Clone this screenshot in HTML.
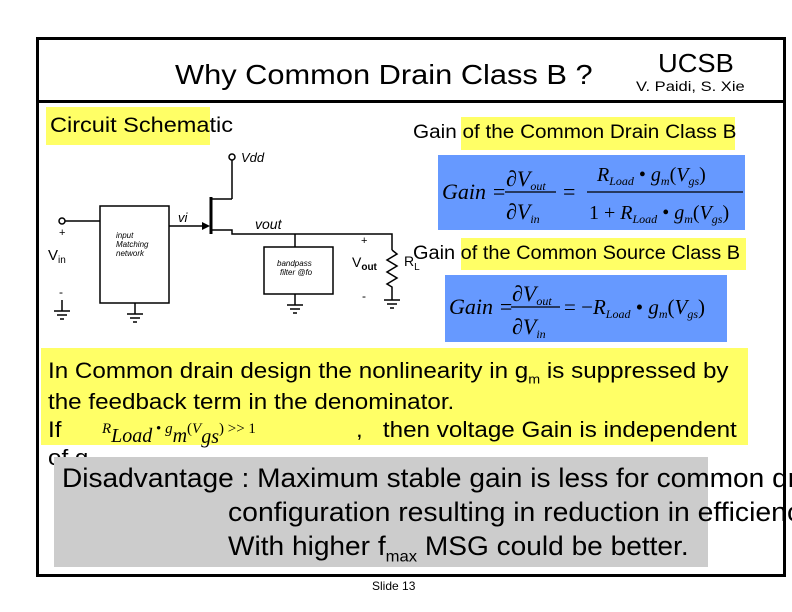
<!DOCTYPE html>
<html><head><meta charset="utf-8">
<style>
html,body{margin:0;padding:0;background:#fff;}
body{width:792px;height:612px;position:relative;overflow:hidden;font-family:"Liberation Sans",sans-serif;color:#000;}
.a{position:absolute;white-space:nowrap;}
.s{transform-origin:0 50%;}
.y{background:#ffff66;}
</style></head><body>
<div class="a" style="left:36px;top:37px;width:744px;height:534px;border:3px solid #000;"></div>
<div class="a" style="left:36px;top:100px;width:750px;height:3px;background:#000;"></div>

<div class="a s" style="left:175px;top:59px;font-size:28px;transform:scaleX(1.1);">Why Common Drain Class B ?</div>
<div class="a s" style="left:658px;top:48px;font-size:26px;transform:scaleX(1.05);">UCSB</div>
<div class="a s" style="left:636px;top:78px;font-size:14px;transform:scaleX(1.18);">V. Paidi, S. Xie</div>

<div class="a y" style="left:46px;top:107px;width:164px;height:38px;"></div>
<div class="a s" style="left:50px;top:114px;font-size:21px;transform:scaleX(1.12);">Circuit Schematic</div>

<div class="a y" style="left:461px;top:117px;width:274px;height:33px;"></div>
<div class="a s" style="left:413px;top:122px;font-size:19px;transform:scaleX(1.09);">Gain of the Common Drain Class B</div>
<div class="a" style="left:438px;top:155px;width:307px;height:75px;background:#6699ff;"></div>

<div class="a y" style="left:461px;top:238px;width:285px;height:32px;"></div>
<div class="a s" style="left:413px;top:243px;font-size:19px;transform:scaleX(1.05);">Gain of the Common Source Class B</div>
<div class="a" style="left:445px;top:275px;width:282px;height:67px;background:#6699ff;"></div>

<div class="a y" style="left:41px;top:348px;width:707px;height:97px;"></div>
<div class="a s" style="left:48px;top:356px;font-size:22px;line-height:30px;transform:scaleX(1.1);">In Common drain design the nonlinearity in g<sub style="font-size:13px">m</sub> is suppressed by</div>
<div class="a s" style="left:48px;top:389px;font-size:22px;transform:scaleX(1.1);">the feedback term in the denominator.</div>
<div class="a s" style="left:48px;top:417px;font-size:22px;transform:scaleX(1.1);">If</div>
<div class="a s" style="left:356px;top:417px;font-size:22px;transform:scaleX(1.1);">,&nbsp;&nbsp; then voltage Gain is independent</div>
<div class="a s" style="left:48px;top:445px;font-size:22px;transform:scaleX(1.1);">of g</div>

<div class="a" style="left:54px;top:457px;width:654px;height:110px;background:#cccccc;"></div>
<div class="a s" style="left:62px;top:463px;font-size:27px;transform:scaleX(1.04);">Disadvantage : Maximum stable gain is less for common drain</div>
<div class="a s" style="left:228px;top:497px;font-size:27px;transform:scaleX(1.05);">configuration resulting in reduction in efficiency</div>
<div class="a s" style="left:228px;top:531px;font-size:27px;transform:scaleX(1.04);">With higher f<sub style="font-size:16px">max</sub> MSG could be better.</div>

<div class="a" style="left:372px;top:579px;font-size:12px;">Slide 13</div>

<svg class="a" style="left:0;top:0" width="792" height="612" viewBox="0 0 792 612">
<g stroke="#000" stroke-width="1.5" fill="none">
 <circle cx="62" cy="221" r="3" fill="#fff"/>
 <line x1="65" y1="221" x2="100" y2="221"/>
 <rect x="100" y="206" width="69" height="97"/>
 <line x1="135" y1="303" x2="135" y2="314"/>
 <line x1="127" y1="314" x2="143" y2="314"/><line x1="130" y1="318" x2="140" y2="318"/><line x1="133" y1="322" x2="137" y2="322"/>
 <line x1="62" y1="300" x2="62" y2="311"/>
 <line x1="54" y1="311" x2="70" y2="311"/><line x1="57" y1="315" x2="67" y2="315"/><line x1="60" y1="319" x2="64" y2="319"/>
 <line x1="169" y1="226" x2="205" y2="226"/>
 <line x1="211" y1="197" x2="211" y2="234" stroke-width="3"/>
 <line x1="212" y1="199" x2="232" y2="199"/>
 <line x1="232" y1="199" x2="232" y2="160"/>
 <circle cx="232" cy="157" r="3" fill="#fff"/>
 <polyline points="212,230 232,230 232,234 392,234 392,250"/>
 <line x1="295" y1="234" x2="295" y2="247"/>
 <rect x="264" y="247" width="69" height="47"/>
 <line x1="295" y1="294" x2="295" y2="305"/>
 <line x1="287" y1="305" x2="303" y2="305"/><line x1="290" y1="309" x2="300" y2="309"/><line x1="293" y1="313" x2="297" y2="313"/>
 <polyline points="392,250 397,254 387,260 397,266 387,272 397,278 387,284 392,287 392,300"/>
 <line x1="384" y1="300" x2="400" y2="300"/><line x1="387" y1="304" x2="397" y2="304"/><line x1="390" y1="308" x2="394" y2="308"/>
</g>
<polygon points="210,226 202,222 202,230" fill="#000"/>
<g font-family="Liberation Sans, sans-serif" fill="#000">
 <text x="59" y="236" font-size="11">+</text>
 <text x="48" y="260" font-size="15">V<tspan font-size="10" dy="3">in</tspan></text>
 <text x="59" y="296" font-size="12">-</text>
 <text x="116" y="238" font-size="8" font-style="italic">input</text>
 <text x="116" y="247" font-size="8" font-style="italic">Matching</text>
 <text x="116" y="256" font-size="8" font-style="italic">network</text>
 <text x="178" y="222" font-size="13" font-style="italic">vi</text>
 <text x="241" y="162" font-size="13" font-style="italic">Vdd</text>
 <text x="255" y="229" font-size="14" font-style="italic">vout</text>
 <text x="277" y="266" font-size="8" font-style="italic">bandpass</text>
 <text x="280" y="275" font-size="8" font-style="italic">filter @fo</text>
 <text x="361" y="244" font-size="11">+</text>
 <text x="352" y="267" font-size="14">V<tspan font-size="10" dy="3" font-weight="bold">out</tspan></text>
 <text x="362" y="300" font-size="12">-</text>
 <text x="404" y="266" font-size="14">R<tspan font-size="10" dy="4">L</tspan></text>
</g>
<g font-family="Liberation Serif, serif" font-style="italic" fill="#000">
 <text x="442" y="199" font-size="22">Gain =</text>
 <text x="506" y="186" font-size="22">∂V<tspan font-size="12" dy="4">out</tspan></text>
 <line x1="505" y1="192" x2="556" y2="192" stroke="#000" stroke-width="1.2"/>
 <text x="506" y="219" font-size="22">∂V<tspan font-size="12" dy="4">in</tspan></text>
 <text x="563" y="199" font-size="22" font-style="normal">=</text>
 <text x="597" y="181" font-size="20">R<tspan font-size="12" dy="4">Load</tspan><tspan dy="-4" font-style="normal"> • </tspan>g<tspan font-size="12" dy="4">m</tspan><tspan dy="-4" font-style="normal">(</tspan>V<tspan font-size="12" dy="4">gs</tspan><tspan dy="-4" font-style="normal">)</tspan></text>
 <line x1="587" y1="192" x2="743" y2="192" stroke="#000" stroke-width="1.2"/>
 <text x="589" y="219" font-size="20"><tspan font-style="normal">1 + </tspan>R<tspan font-size="12" dy="4">Load</tspan><tspan dy="-4" font-style="normal"> • </tspan>g<tspan font-size="12" dy="4">m</tspan><tspan dy="-4" font-style="normal">(</tspan>V<tspan font-size="12" dy="4">gs</tspan><tspan dy="-4" font-style="normal">)</tspan></text>

 <text x="449" y="314" font-size="22">Gain =</text>
 <text x="512" y="301" font-size="22">∂V<tspan font-size="12" dy="4">out</tspan></text>
 <line x1="511" y1="307" x2="560" y2="307" stroke="#000" stroke-width="1.2"/>
 <text x="512" y="334" font-size="22">∂V<tspan font-size="12" dy="4">in</tspan></text>
 <text x="564" y="314" font-size="21"><tspan font-style="normal">= −</tspan>R<tspan font-size="12" dy="4">Load</tspan><tspan dy="-4" font-style="normal"> • </tspan>g<tspan font-size="12" dy="4">m</tspan><tspan dy="-4" font-style="normal">(</tspan>V<tspan font-size="12" dy="4">gs</tspan><tspan dy="-4" font-style="normal">)</tspan></text>

 <text x="102" y="433" font-size="15">R<tspan font-size="20" dy="9">Load</tspan><tspan dy="-9" font-style="normal"> • </tspan>g<tspan font-size="20" dy="9">m</tspan><tspan dy="-9" font-style="normal">(</tspan>V<tspan font-size="20" dy="10">gs</tspan><tspan dy="-10" font-style="normal">) &gt;&gt; 1</tspan></text>
</g>
</svg>
</body></html>
